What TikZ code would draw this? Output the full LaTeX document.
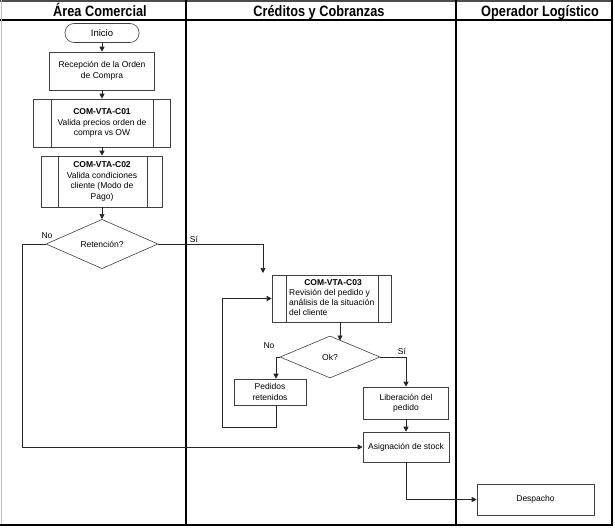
\documentclass[tikz,border=0pt]{standalone}
\usepackage{fontspec}
\setmainfont{Liberation Sans}
\newfontfamily\hdfont[FakeStretch=0.85]{Liberation Sans}
\usetikzlibrary{shapes.geometric,arrows.meta}
\begin{document}
\begin{tikzpicture}[x=1pt,y=-1pt,
  box/.style={draw=black!75,line width=0.6pt,fill=white,inner sep=0pt,align=center,font=\fontsize{8.5}{10.5}\selectfont},
  dec/.style={diamond,draw=black!75,line width=0.6pt,fill=white,inner sep=0pt,font=\fontsize{8.5}{10.5}\selectfont},
  txt/.style={inner sep=0pt,font=\fontsize{8.5}{10}\selectfont},
  lbl/.style={inner sep=0pt,font=\fontsize{8.5}{10}\selectfont},
  hd/.style={inner sep=0pt,anchor=base,font=\hdfont\bfseries\fontsize{15}{15}\selectfont},
  lane/.style={line width=2.2pt,black},
  flow/.style={line width=0.7pt,black!85,-{Triangle[length=5pt,width=5pt]}},
  line/.style={line width=0.7pt,black!85},
  inner/.style={line width=0.6pt,black!75},
]
\useasboundingbox (0,0) rectangle (615,527);
% frame
\draw[black!70,line width=1.5pt] (0,1) -- (613,1);
\draw[black,line width=1.5pt] (0,20) -- (613,20);
\draw[black!25,line width=1pt] (1,0) -- (1,526);
\draw[lane] (612,0) -- (612,526);
\draw[black,line width=2pt] (0,525) -- (613,525);
\draw[lane] (186,0) -- (186,526);
\draw[lane] (456,0) -- (456,526);
% headers
\node[hd] (h1) at (100,16.5) {Área Comercial};
\node[hd] (h2) at (319,16.5) {Créditos y Cobranzas};
\node[hd] (h3) at (540,16.5) {Operador Logístico};
% left lane
\node[box,rounded corners=9pt,minimum width=74pt,minimum height=19pt,font=\fontsize{9.5}{11}\selectfont] (inicio) at (102,33) {Inicio};
\node[box,minimum width=105pt,minimum height=38pt] (recep) at (102,71) {Recepción de la Orden\\de Compra};
\node[box,minimum width=137pt,minimum height=48pt] (c01) at (102,123) {\textbf{COM-VTA-C01}\\Valida precios orden de\\compra vs OW};
\node[box,minimum width=121pt,minimum height=51pt] (c02) at (102,181.5) {\textbf{COM-VTA-C02}\\Valida condiciones\\cliente (Modo de\\Pago)};
\node[dec,minimum width=112pt,minimum height=48pt] (ret) at (102,244) {Retención?};
\draw[inner] ([xshift=18pt]c01.north west) -- ([xshift=18pt]c01.south west);
\draw[inner] ([xshift=-18pt]c01.north east) -- ([xshift=-18pt]c01.south east);
\draw[inner] ([xshift=17pt]c02.north west) -- ([xshift=17pt]c02.south west);
\draw[inner] ([xshift=-16pt]c02.north east) -- ([xshift=-16pt]c02.south east);
% middle lane
\node[box,minimum width=119pt,minimum height=47pt] (c03) at (331.5,298.5) {};
\draw[inner] ([xshift=15pt]c03.north west) -- ([xshift=15pt]c03.south west);
\draw[inner] ([xshift=-13pt]c03.north east) -- ([xshift=-13pt]c03.south east);
\node[txt,anchor=base] (c03t) at (333,285) {\textbf{COM-VTA-C03}};
\node[txt,anchor=north west,align=left] (c03b) at (289,289) {Revisión del pedido y\\análisis de la situación\\del cliente};
\node[dec,minimum width=100pt,minimum height=42pt] (ok) at (330,357) {Ok?};
\node[box,minimum width=72pt,minimum height=26pt] (ped) at (270,392) {Pedidos\\retenidos};
\node[box,minimum width=85pt,minimum height=32pt] (lib) at (406,403) {Liberación del\\pedido};
\node[box,minimum width=86pt,minimum height=30pt] (asig) at (406,447) {Asignación de stock};
% right lane
\node[box,minimum width=117pt,minimum height=31pt] (desp) at (535.5,499.5) {Despacho};
% labels
\node[lbl] (no1) at (47,236) {No};
\node[lbl] (si1) at (194,239) {Sí};
\node[lbl] (no2) at (269,346) {No};
\node[lbl] (si2) at (402,351) {Sí};
% connectors
\coordinate (c03in) at (263,273);
\coordinate (okin) at (340,340.5);
\draw[flow] (inicio) -- (recep);
\draw[flow] (recep) -- (c01);
\draw[flow] (c01) -- (c02);
\draw[flow] (c02) -- (ret);
\draw[flow] (ret.west) -- ++(-23,0) |- (asig.west);
\draw[flow] (ret.east) -| (c03in);
\draw[flow] (c03.south -| okin) -- (okin);
\draw[flow] (ok.west) -| ([xshift=6pt]ped.north);
\draw[flow] ([xshift=6pt]ped.south) -- ++(0,22) -- ++(-54,0) |- (c03.west);
\draw[flow] (ok.east) -| (lib.north);
\draw[flow] (lib) -- (asig);
\draw[flow] (asig.south) |- (desp.west);
\end{tikzpicture}
\end{document}
